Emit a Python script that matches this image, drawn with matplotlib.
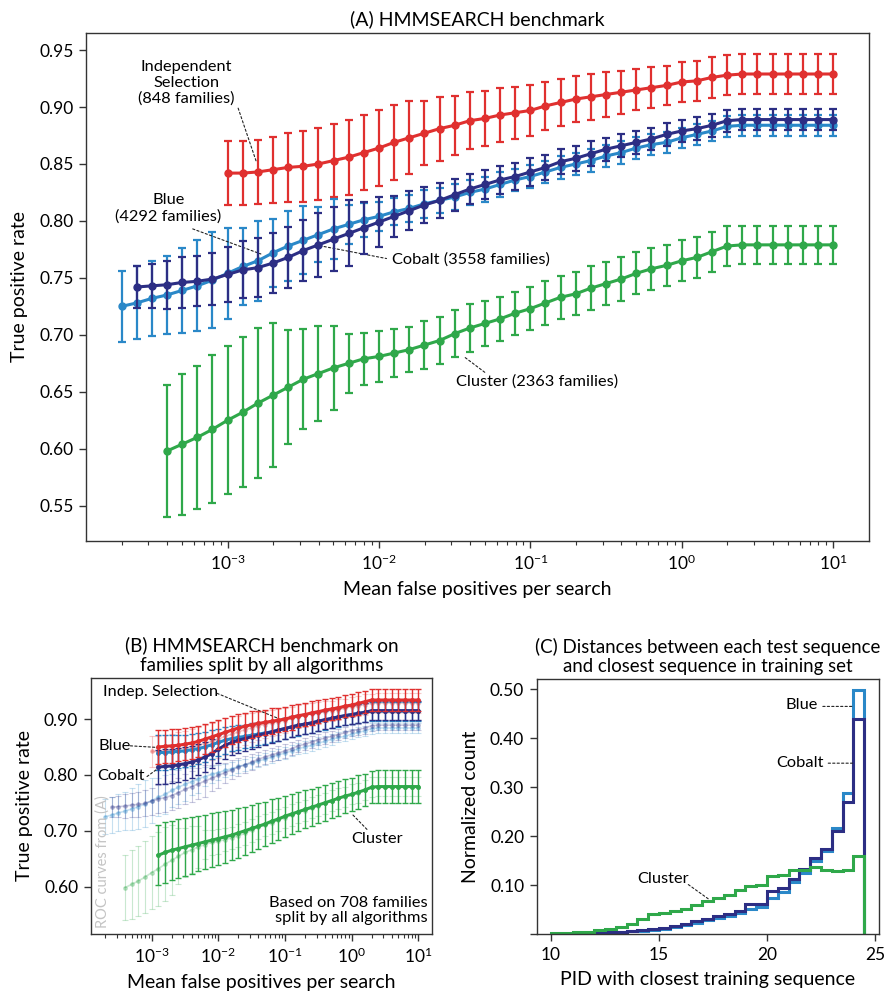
import numpy as np
import matplotlib
matplotlib.use("Agg")
import matplotlib.pyplot as plt

plt.rcParams['font.family'] = ['Lato', 'DejaVu Sans']
plt.rcParams['mathtext.fontset'] = 'custom'
plt.rcParams['mathtext.rm'] = 'Lato'
plt.rcParams['mathtext.it'] = 'Lato:italic'
plt.rcParams['mathtext.bf'] = 'Lato:bold'

RED = '#e0302f'
BLUE = '#2a88c8'
COBALT = '#2c2e84'
GREEN = '#2fa84a'

# ---- panel A: full benchmark (log10 of mean false positives per search) ----
exp_blue = np.round(np.arange(-3.7, 1.05, 0.1), 1)
exp_cobalt = np.round(np.arange(-3.6, 1.05, 0.1), 1)
exp_indep = np.round(np.arange(-3.0, 1.05, 0.1), 1)
exp_cluster = np.round(np.arange(-3.4, 1.05, 0.1), 1)

tpr_blue = [0.725, 0.728, 0.732, 0.735, 0.739, 0.743, 0.748, 0.754, 0.760, 0.765,
            0.772, 0.778, 0.783, 0.788, 0.793, 0.797, 0.801, 0.804, 0.808, 0.811,
            0.815, 0.818, 0.821, 0.825, 0.828, 0.832, 0.836, 0.839, 0.843, 0.847,
            0.850, 0.853, 0.857, 0.860, 0.864, 0.867, 0.869, 0.873, 0.876, 0.879,
            0.883, 0.884, 0.884, 0.884, 0.884, 0.884, 0.884, 0.884]
err_blue = [0.031, 0.032, 0.033, 0.034, 0.037, 0.040, 0.042, 0.040, 0.034, 0.035,
            0.030, 0.031, 0.030, 0.024, 0.026, 0.017, 0.015, 0.013, 0.012, 0.012,
            0.012, 0.011, 0.011, 0.011, 0.011, 0.011, 0.010, 0.010, 0.010, 0.010,
            0.010, 0.010, 0.010, 0.010, 0.010, 0.009, 0.009, 0.009, 0.009, 0.009,
            0.009, 0.009, 0.009, 0.009, 0.009, 0.009, 0.009, 0.009]

tpr_cobalt = [0.742, 0.743, 0.744, 0.746, 0.747, 0.749, 0.753, 0.757, 0.759, 0.763,
              0.768, 0.774, 0.779, 0.784, 0.789, 0.794, 0.799, 0.804, 0.809, 0.814,
              0.818, 0.823, 0.828, 0.832, 0.836, 0.839, 0.843, 0.847, 0.852, 0.855,
              0.859, 0.863, 0.866, 0.869, 0.872, 0.876, 0.879, 0.881, 0.884, 0.888,
              0.889, 0.889, 0.889, 0.889, 0.889, 0.889, 0.889]
err_cobalt = [0.018, 0.019, 0.021, 0.022, 0.022, 0.023, 0.024, 0.025, 0.026, 0.026,
              0.027, 0.027, 0.028, 0.028, 0.029, 0.023, 0.022, 0.018, 0.017, 0.016,
              0.015, 0.014, 0.013, 0.013, 0.012, 0.012, 0.012, 0.011, 0.011, 0.011,
              0.011, 0.010, 0.010, 0.010, 0.010, 0.010, 0.010, 0.010, 0.010, 0.0095,
              0.0095, 0.0095, 0.0095, 0.0095, 0.0095, 0.0095, 0.0095]

tpr_indep = [0.842, 0.842, 0.843, 0.845, 0.847, 0.848, 0.850, 0.853, 0.856, 0.860,
             0.864, 0.869, 0.873, 0.877, 0.881, 0.884, 0.888, 0.890, 0.893, 0.895,
             0.897, 0.901, 0.904, 0.907, 0.909, 0.911, 0.913, 0.915, 0.917, 0.919,
             0.922, 0.923, 0.926, 0.928, 0.929, 0.929, 0.929, 0.929, 0.929, 0.929, 0.929]
err_indep = [0.028, 0.028, 0.028, 0.029, 0.030, 0.031, 0.032, 0.032, 0.033, 0.033,
             0.033, 0.033, 0.032, 0.028, 0.028, 0.026, 0.025, 0.024, 0.0235, 0.023,
             0.0225, 0.021, 0.0205, 0.0205, 0.020, 0.0195, 0.019, 0.018, 0.018, 0.017,
             0.0175, 0.0175, 0.018, 0.0176, 0.0176, 0.0176, 0.0176, 0.0176, 0.0176,
             0.0176, 0.0176]

tpr_cluster = [0.598, 0.604, 0.610, 0.617, 0.625, 0.632, 0.640, 0.647, 0.654, 0.661,
               0.666, 0.671, 0.675, 0.679, 0.681, 0.684, 0.687, 0.691, 0.695, 0.701,
               0.706, 0.710, 0.714, 0.719, 0.723, 0.728, 0.733, 0.736, 0.741, 0.745,
               0.749, 0.754, 0.758, 0.761, 0.765, 0.768, 0.773, 0.778, 0.779, 0.779,
               0.779, 0.779, 0.779, 0.779, 0.779]
err_cluster = [0.058, 0.062, 0.063, 0.065, 0.065, 0.066, 0.066, 0.063, 0.050, 0.044,
               0.042, 0.037, 0.026, 0.023, 0.022, 0.021, 0.020, 0.021, 0.021, 0.0205,
               0.021, 0.0195, 0.0195, 0.019, 0.019, 0.019, 0.019, 0.019, 0.019, 0.019,
               0.019, 0.0185, 0.0185, 0.018, 0.018, 0.018, 0.0175, 0.0175, 0.0165, 0.0165,
               0.0165, 0.0165, 0.0165, 0.0165, 0.0165]

# ---- panel B: 708 families split by all algorithms ----
exp_split = np.round(np.arange(-2.9, 1.05, 0.1), 1)
tpr_indep_b = [0.850, 0.851, 0.852, 0.853, 0.855, 0.857, 0.860, 0.864, 0.868, 0.872,
               0.876, 0.880, 0.884, 0.887, 0.890, 0.892, 0.894, 0.896, 0.898, 0.900,
               0.903, 0.906, 0.908, 0.911, 0.913, 0.916, 0.918, 0.920, 0.923, 0.925,
               0.928, 0.931, 0.934, 0.934, 0.934, 0.934, 0.934, 0.934, 0.934, 0.934]
tpr_blue_b = [0.840, 0.840, 0.841, 0.842, 0.843, 0.845, 0.847, 0.850, 0.854, 0.858,
              0.862, 0.865, 0.867, 0.869, 0.871, 0.873, 0.875, 0.877, 0.880, 0.883,
              0.886, 0.888, 0.891, 0.893, 0.896, 0.898, 0.901, 0.903, 0.906, 0.908,
              0.910, 0.912, 0.914, 0.914, 0.914, 0.914, 0.914, 0.914, 0.914, 0.914]
tpr_cobalt_b = [0.814, 0.815, 0.816, 0.818, 0.820, 0.823, 0.827, 0.832, 0.838, 0.846,
                0.853, 0.858, 0.862, 0.865, 0.868, 0.871, 0.874, 0.877, 0.880, 0.883,
                0.886, 0.889, 0.891, 0.893, 0.896, 0.899, 0.901, 0.904, 0.906, 0.908,
                0.910, 0.912, 0.915, 0.915, 0.915, 0.915, 0.915, 0.915, 0.915, 0.915]
tpr_cluster_b = [0.656, 0.661, 0.665, 0.668, 0.671, 0.674, 0.677, 0.680, 0.683, 0.686,
                 0.689, 0.692, 0.696, 0.700, 0.704, 0.708, 0.712, 0.717, 0.721, 0.726,
                 0.730, 0.734, 0.738, 0.742, 0.746, 0.750, 0.754, 0.758, 0.762, 0.765,
                 0.769, 0.773, 0.778, 0.779, 0.779, 0.779, 0.779, 0.779, 0.779, 0.779]
err_indep_b = [0.030, 0.030, 0.030, 0.029, 0.029, 0.028, 0.028, 0.027, 0.027, 0.026,
               0.026, 0.025, 0.025, 0.024, 0.024, 0.023, 0.023, 0.023, 0.022, 0.022,
               0.022, 0.021, 0.021, 0.021, 0.021, 0.020, 0.020, 0.020, 0.020, 0.020,
               0.020, 0.020, 0.020, 0.020, 0.020, 0.020, 0.020, 0.020, 0.020, 0.020]
err_blue_b = [0.031, 0.031, 0.030, 0.030, 0.029, 0.029, 0.028, 0.027, 0.026, 0.025,
              0.024, 0.023, 0.022, 0.021, 0.021, 0.020, 0.020, 0.019, 0.019, 0.019,
              0.018, 0.018, 0.018, 0.018, 0.017, 0.017, 0.017, 0.017, 0.017, 0.017,
              0.017, 0.017, 0.017, 0.017, 0.017, 0.017, 0.017, 0.017, 0.017, 0.017]
err_cobalt_b = [0.031, 0.031, 0.031, 0.030, 0.030, 0.029, 0.028, 0.027, 0.026, 0.025,
                0.024, 0.023, 0.022, 0.022, 0.021, 0.021, 0.020, 0.020, 0.019, 0.019,
                0.019, 0.018, 0.018, 0.018, 0.018, 0.017, 0.017, 0.017, 0.017, 0.017,
                0.017, 0.017, 0.017, 0.017, 0.017, 0.017, 0.017, 0.017, 0.017, 0.017]
err_cluster_b = [0.054, 0.054, 0.053, 0.053, 0.052, 0.051, 0.050, 0.049, 0.048, 0.047,
                 0.046, 0.045, 0.044, 0.043, 0.042, 0.041, 0.040, 0.039, 0.038, 0.037,
                 0.036, 0.035, 0.034, 0.033, 0.033, 0.032, 0.031, 0.031, 0.030, 0.030,
                 0.030, 0.029, 0.029, 0.029, 0.029, 0.029, 0.029, 0.029, 0.029, 0.029]

# ---- panel C: PID with closest training sequence (0.5-wide bins, 10 .. 24.5) ----
pid_edges = np.arange(10.0, 24.75, 0.5)
hist_blue = [0.000, 0.000, 0.000, 0.001, 0.001, 0.003, 0.004, 0.006, 0.007, 0.008,
             0.011, 0.014, 0.018, 0.023, 0.028, 0.033, 0.036, 0.042, 0.052, 0.055,
             0.074, 0.086, 0.106, 0.125, 0.149, 0.169, 0.217, 0.289, 0.499]
hist_cobalt = [0.000, 0.000, 0.001, 0.001, 0.002, 0.004, 0.005, 0.007, 0.008, 0.010,
               0.013, 0.017, 0.021, 0.027, 0.031, 0.036, 0.040, 0.046, 0.061, 0.062,
               0.088, 0.095, 0.113, 0.132, 0.155, 0.174, 0.211, 0.270, 0.439]
hist_cluster = [0.002, 0.003, 0.004, 0.005, 0.008, 0.011, 0.015, 0.020, 0.030, 0.040,
                0.042, 0.048, 0.052, 0.060, 0.068, 0.074, 0.080, 0.090, 0.098, 0.101,
                0.119, 0.120, 0.131, 0.131, 0.136, 0.131, 0.129, 0.131, 0.160]

TICK_FS = 12.5
LABEL_FS = 14
NOTE_FS = 11.8


def draw_roc(ax, exps, tpr, err, color, lw, ms, elw, cap, alpha=1.0, z=3):
    ax.errorbar(10.0 ** exps, tpr, yerr=err, color=color, lw=lw, marker='o',
                ms=ms, elinewidth=elw, capsize=cap, capthick=elw,
                alpha=alpha, zorder=z)


def dotted(ax, p0, p1):
    ax.annotate('', xy=p1, xytext=p0,
                arrowprops=dict(arrowstyle='-', lw=0.8, color='#222222',
                                linestyle=(0, (2, 2)), shrinkA=0, shrinkB=0))


def style_axes(ax):
    for s in ax.spines.values():
        s.set_linewidth(1.0)
        s.set_color('#333333')
    ax.tick_params(which='both', direction='out', top=False, right=False,
                   labelsize=TICK_FS, color='#333333')
    ax.tick_params(which='major', length=5, width=1.0, pad=4)
    ax.tick_params(which='minor', length=3, width=0.8)


fig = plt.figure(figsize=(8.86, 10), dpi=100)
axA = fig.add_axes([86 / 886, 1 - 541 / 1000, 783 / 886, 508 / 1000])
axB = fig.add_axes([90.7 / 886, 1 - 934 / 1000, 341.3 / 886, 256.3 / 1000])
axC = fig.add_axes([536.7 / 886, 1 - 934 / 1000, 342.3 / 886, 255 / 1000])

# ---------------- panel A ----------------
draw_roc(axA, exp_cluster, tpr_cluster, err_cluster, GREEN, 2.2, 5, 1.6, 3.2)
draw_roc(axA, exp_indep, tpr_indep, err_indep, RED, 2.2, 5, 1.6, 3.2)
draw_roc(axA, exp_blue, tpr_blue, err_blue, BLUE, 2.2, 5, 1.6, 3.2)
draw_roc(axA, exp_cobalt, tpr_cobalt, err_cobalt, COBALT, 2.2, 5, 1.6, 3.2, z=4)

axA.set_xscale('log')
axA.set_xlim(10 ** -3.935, 10 ** 1.237)
axA.set_ylim(0.519, 0.965)
axA.set_yticks(np.arange(0.55, 0.951, 0.05))
axA.yaxis.set_major_formatter(plt.FormatStrFormatter('%.2f'))
style_axes(axA)
axA.set_xlabel('Mean false positives per search', fontsize=LABEL_FS, labelpad=6)
axA.set_ylabel('True positive rate', fontsize=LABEL_FS, labelpad=8)
axA.set_title('(A) HMMSEARCH benchmark', fontsize=LABEL_FS, pad=6)

axA.text(10 ** -3.27, 0.921, 'Independent\nSelection\n(848 families)', ha='center',
         va='center', fontsize=NOTE_FS, linespacing=1.15)
dotted(axA, (10 ** -2.93, 0.899), (10 ** -2.81, 0.852))
axA.text(10 ** -3.39, 0.811, 'Blue\n(4292 families)', ha='center', va='center',
         fontsize=NOTE_FS, linespacing=1.15)
dotted(axA, (10 ** -3.23, 0.793), (10 ** -2.78, 0.771))
axA.text(10 ** -1.915, 0.766, 'Cobalt (3558 families)', ha='left', va='center', fontsize=NOTE_FS)
dotted(axA, (10 ** -2.42, 0.779), (10 ** -1.95, 0.767))
axA.text(10 ** -1.49, 0.659, 'Cluster (2363 families)', ha='left', va='center', fontsize=NOTE_FS)
dotted(axA, (10 ** -1.43, 0.680), (10 ** -1.30, 0.667))

# ---------------- panel B ----------------
for exps, tpr, err, col in [(exp_cluster, tpr_cluster, err_cluster, GREEN),
                            (exp_indep, tpr_indep, err_indep, RED),
                            (exp_blue, tpr_blue, err_blue, BLUE),
                            (exp_cobalt, tpr_cobalt, err_cobalt, COBALT)]:
    draw_roc(axB, exps, tpr, err, col, 1.2, 2.5, 0.8, 2.5, alpha=0.26, z=2)

draw_roc(axB, exp_split, tpr_cluster_b, err_cluster_b, GREEN, 2.2, 2.5, 1.0, 2.0)
draw_roc(axB, exp_split, tpr_blue_b, err_blue_b, BLUE, 2.2, 2.5, 1.0, 2.0)
draw_roc(axB, exp_split, tpr_cobalt_b, err_cobalt_b, COBALT, 2.2, 2.5, 1.0, 2.0, z=4)
draw_roc(axB, exp_split, tpr_indep_b, err_indep_b, RED, 2.2, 2.5, 1.0, 2.0, z=5)

axB.set_xscale('log')
axB.set_xlim(10 ** -3.915, 10 ** 1.205)
axB.set_ylim(0.515, 0.974)
axB.set_yticks([0.6, 0.7, 0.8, 0.9])
axB.yaxis.set_major_formatter(plt.FormatStrFormatter('%.2f'))
style_axes(axB)
axB.set_xlabel('Mean false positives per search', fontsize=LABEL_FS, labelpad=6)
axB.set_ylabel('True positive rate', fontsize=LABEL_FS, labelpad=8)
axB.set_title('(B) HMMSEARCH benchmark on\nfamilies split by all algorithms',
              fontsize=13.6, pad=5, linespacing=1.15)

axB.text(10 ** -3.73, 0.948, 'Indep. Selection', ha='left', va='center', fontsize=NOTE_FS)
dotted(axB, (10 ** -2.02, 0.946), (10 ** -1.12, 0.902))
axB.text(10 ** -3.8, 0.852, 'Blue', ha='left', va='center', fontsize=NOTE_FS)
dotted(axB, (10 ** -3.32, 0.852), (10 ** -2.9, 0.849))
axB.text(10 ** -3.82, 0.798, 'Cobalt', ha='left', va='center', fontsize=NOTE_FS)
dotted(axB, (10 ** -3.07, 0.797), (10 ** -2.9, 0.812))
axB.text(10 ** 0.0, 0.685, 'Cluster', ha='left', va='center', fontsize=NOTE_FS)
dotted(axB, (10 ** 0.02, 0.728), (10 ** 0.24, 0.701))
axB.text(0.986, 0.092, 'Based on 708 families\nsplit by all algorithms', ha='right',
         va='center', fontsize=NOTE_FS, linespacing=1.15, transform=axB.transAxes)
axB.text(0.035, 0.025, 'ROC curves from (A)', rotation=90, ha='center', va='bottom',
         fontsize=10.5, color='#c4c4c4', transform=axB.transAxes)

# ---------------- panel C ----------------
axC.stairs(hist_blue, pid_edges, color=BLUE, lw=2.2, baseline=0)
axC.stairs(hist_cobalt, pid_edges, color=COBALT, lw=2.2, baseline=0)
axC.stairs(hist_cluster, pid_edges, color=GREEN, lw=2.2, baseline=0)
axC.set_xlim(9.34, 25.19)
axC.set_ylim(0, 0.521)
axC.set_xticks([10, 15, 20, 25])
axC.set_yticks([0, 0.1, 0.2, 0.3, 0.4, 0.5])
axC.set_yticklabels(['', '0.10', '0.20', '0.30', '0.40', '0.50'])
style_axes(axC)
axC.set_xlabel('PID with closest training sequence', fontsize=LABEL_FS, labelpad=6)
axC.set_ylabel('Normalized count', fontsize=LABEL_FS, labelpad=8)
axC.set_title('(C) Distances between each test sequence\nand closest sequence in training set',
              fontsize=13.4, pad=5, linespacing=1.15)

axC.text(22.37, 0.467, 'Blue', ha='right', va='center', fontsize=NOTE_FS)
dotted(axC, (22.59, 0.465), (23.98, 0.465))
axC.text(22.61, 0.350, 'Cobalt', ha='right', va='center', fontsize=NOTE_FS)
dotted(axC, (22.84, 0.349), (24.03, 0.349))
axC.text(15.2, 0.113, 'Cluster', ha='center', va='center', fontsize=NOTE_FS)
dotted(axC, (16.36, 0.101), (17.28, 0.072))

fig.savefig('out.png', dpi=100)
